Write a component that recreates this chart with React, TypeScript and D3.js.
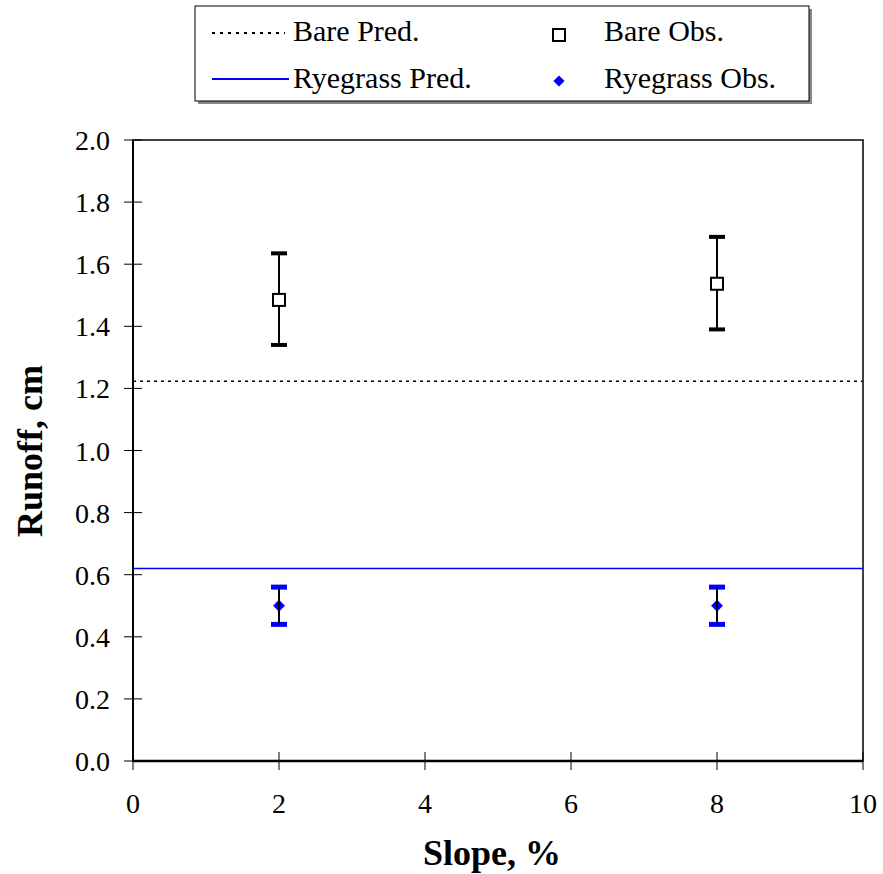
import React from "react";
import * as d3 from "d3";

const xTicks = [0, 2, 4, 6, 8, 10];
const yTicks = [0, 0.2, 0.4, 0.6, 0.8, 1.0, 1.2, 1.4, 1.6, 1.8, 2.0];
const slopes = [2, 8];
const bareObs = [1.485, 1.537];
const bareLow = [1.34, 1.39];
const bareHigh = [1.635, 1.688];
const ryeObs = [0.5, 0.5];
const ryeLow = [0.44, 0.44];
const ryeHigh = [0.56, 0.56];
const barePred = 1.223;
const ryePred = 0.62;

const W = 883, H = 874;
const L = 133, R = 863, T = 140, B = 761;
const FONT = "'Liberation Serif', 'DejaVu Serif', serif";

export default function App() {
  const x = d3.scaleLinear().domain([0, 10]).range([L, R]);
  const y = d3.scaleLinear().domain([0, 2]).range([B, T]);
  const capW = 8;
  return (
    <svg width={W} height={H} style={{ position: "absolute", left: 0, top: 0 }} fontFamily={FONT}>
      <rect x={0} y={0} width={W} height={H} fill="white" />
      {/* legend */}
      <rect x={198} y={9} width={614} height={95} fill="#888" />
      <rect x={195} y={6} width={614} height={95} fill="white" stroke="black" strokeWidth={1} />
      <line x1={212} x2={285} y1={33} y2={33} stroke="black" strokeWidth={2} strokeDasharray="3,5" />
      <text x={293} y={41} fontSize={30}>Bare Pred.</text>
      <line x1={212} x2={289} y1={79} y2={79} stroke="blue" strokeWidth={2} />
      <text x={293} y={88} fontSize={30}>Ryegrass Pred.</text>
      <rect x={553} y={29} width={12} height={12} fill="white" stroke="black" strokeWidth={2} />
      <text x={604} y={41} fontSize={30}>Bare Obs.</text>
      <path d={d3.symbol().type(d3.symbolDiamond2).size(80)() as string} transform="translate(559,81)" fill="blue" />
      <text x={604} y={88} fontSize={30}>Ryegrass Obs.</text>

      {/* frame */}
      <rect x={L} y={T} width={R - L} height={B - T} fill="none" stroke="black" strokeWidth={1.5} />
      <line x1={L} x2={L} y1={T} y2={B} stroke="black" strokeWidth={2} />
      <line x1={L} x2={R} y1={B} y2={B} stroke="black" strokeWidth={2.5} />
      {yTicks.map((t) => (
        <g key={"y" + t}>
          <line x1={124} x2={142} y1={y(t)} y2={y(t)} stroke="black" strokeWidth={1} />
          <text x={110} y={y(t) + 10} fontSize={28} textAnchor="end">{t.toFixed(1)}</text>
        </g>
      ))}
      {xTicks.map((t) => (
        <g key={"x" + t}>
          <line x1={x(t)} x2={x(t)} y1={752} y2={770} stroke="black" strokeWidth={1} />
          <text x={x(t)} y={813} fontSize={28} textAnchor="middle">{t}</text>
        </g>
      ))}
      <text x={492} y={865} fontSize={36} fontWeight="bold" textAnchor="middle">Slope, %</text>
      <text transform={`translate(42,451) rotate(-90)`} fontSize={36} fontWeight="bold" textAnchor="middle">Runoff, cm</text>

      {/* predictions */}
      <line x1={L} x2={R} y1={y(barePred)} y2={y(barePred)} stroke="black" strokeWidth={1.5} strokeDasharray="3,4" />
      <line x1={L} x2={R} y1={y(ryePred)} y2={y(ryePred)} stroke="blue" strokeWidth={1.5} />

      {/* bare obs */}
      {slopes.map((s, i) => (
        <g key={"b" + i}>
          <line x1={x(s)} x2={x(s)} y1={y(bareLow[i])} y2={y(bareHigh[i])} stroke="black" strokeWidth={2} />
          <line x1={x(s) - capW} x2={x(s) + capW} y1={y(bareLow[i])} y2={y(bareLow[i])} stroke="black" strokeWidth={4} />
          <line x1={x(s) - capW} x2={x(s) + capW} y1={y(bareHigh[i])} y2={y(bareHigh[i])} stroke="black" strokeWidth={4} />
          <rect x={x(s) - 6} y={y(bareObs[i]) - 6} width={12} height={12} fill="white" stroke="black" strokeWidth={2} />
        </g>
      ))}
      {/* ryegrass obs */}
      {slopes.map((s, i) => (
        <g key={"r" + i}>
          <line x1={x(s) - capW} x2={x(s) + capW} y1={y(ryeLow[i])} y2={y(ryeLow[i])} stroke="blue" strokeWidth={5} />
          <line x1={x(s) - capW} x2={x(s) + capW} y1={y(ryeHigh[i])} y2={y(ryeHigh[i])} stroke="blue" strokeWidth={5} />
          <path d={d3.symbol().type(d3.symbolDiamond2).size(90)() as string} transform={`translate(${x(s)},${y(ryeObs[i])})`} fill="blue" />
          <line x1={x(s)} x2={x(s)} y1={y(ryeLow[i])} y2={y(ryeHigh[i])} stroke="black" strokeWidth={2} />
        </g>
      ))}
    </svg>
  );
}
